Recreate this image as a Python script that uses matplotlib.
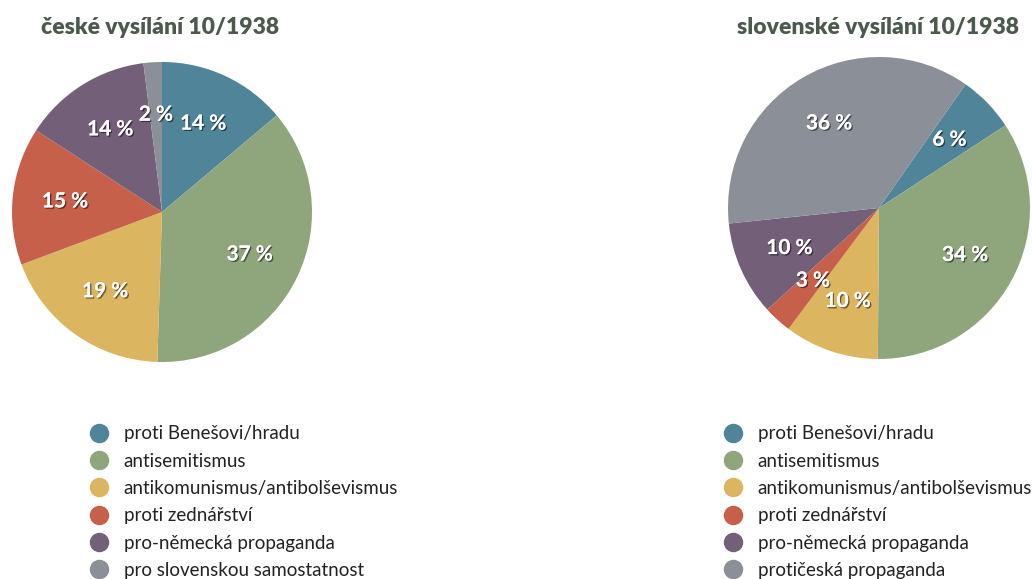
import matplotlib.pyplot as plt
import matplotlib.patheffects as pe
from matplotlib.lines import Line2D

plt.rcParams['font.family'] = ['Lato', 'DejaVu Sans']

# data
kategorie_cz = ['proti Benešovi/hradu', 'antisemitismus', 'antikomunismus/antibolševismus',
                'proti zednářství', 'pro-německá propaganda', 'pro slovenskou samostatnost']
kategorie_sk = ['proti Benešovi/hradu', 'antisemitismus', 'antikomunismus/antibolševismus',
                'proti zednářství', 'pro-německá propaganda', 'protičeská propaganda']
hodnoty_cz = [14, 37, 19, 15, 14, 2]
hodnoty_sk = [6, 34, 10, 3, 10, 36]
barvy = ['#4f8499', '#8fa67d', '#dbb55f', '#c6604b', '#735f78', '#8a8f98']

fig = plt.figure(figsize=(10.32, 5.79), dpi=100)

stin = [pe.withSimplePatchShadow(offset=(1, -1), shadow_rgbFace='black', alpha=0.5), pe.Normal()]


def kolac(rect, hodnoty, start, nadpis, nadpis_x, popisky, leg_x):
    ax = fig.add_axes(rect)
    wedges, _, auto = ax.pie(hodnoty, colors=barvy, startangle=start, counterclock=False,
                             autopct=lambda p: '%d %%' % round(p * sum(hodnoty) / 100),
                             pctdistance=0.65, radius=1,
                             wedgeprops=dict(linewidth=0))
    for t in auto:
        t.set_color('white')
        t.set_fontsize(15)
        t.set_fontweight('bold')
        t.set_path_effects(stin)
    ax.set_xlim(-1, 1)
    ax.set_ylim(-1, 1)
    fig.text(nadpis_x, 0.953, nadpis, fontsize=16.5, fontweight='heavy', color='#4b5a4d',
             ha='center', va='center')
    handles = [Line2D([], [], marker='o', ls='', markersize=13, color=c) for c in barvy]
    fig.legend(handles, popisky, loc='upper left', bbox_to_anchor=(leg_x, 0.2655),
               frameon=False, borderpad=0, borderaxespad=0, handlelength=1.0,
               handletextpad=0.8, labelspacing=0.55, fontsize=13.5, labelcolor='#222222')
    return ax


kolac([12 / 1032, 217 / 579, 300 / 1032, 300 / 579], hodnoty_cz, 90,
      'české vysílání 10/1938', 160 / 1032, kategorie_cz, 90 / 1032)
kolac([728 / 1032, 220 / 579, 302 / 1032, 302 / 579], hodnoty_sk, 55,
      'slovenské vysílání 10/1938', 878 / 1032, kategorie_sk, 724 / 1032)

fig.savefig('out.png', dpi=100)
